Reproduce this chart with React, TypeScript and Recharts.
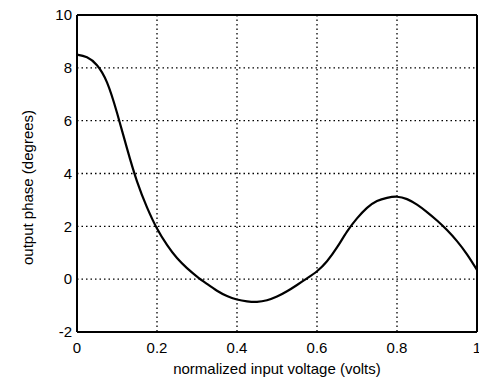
import React from "react";
import { LineChart, Line, XAxis, YAxis, CartesianGrid, ReferenceLine, Label } from "recharts";

const voltage = [0, 0.025, 0.05, 0.075, 0.1, 0.125, 0.15, 0.175, 0.2, 0.225, 0.25, 0.275, 0.3, 0.325, 0.35, 0.375, 0.4, 0.425, 0.45, 0.475, 0.5, 0.525, 0.55, 0.575, 0.6, 0.625, 0.65, 0.675, 0.7, 0.725, 0.75, 0.775, 0.8, 0.825, 0.85, 0.875, 0.9, 0.925, 0.95, 0.975, 1.0];
const phase = [8.5, 8.4, 8.1, 7.45, 6.3, 4.95, 3.7, 2.72, 1.92, 1.3, 0.8, 0.42, 0.1, -0.18, -0.44, -0.64, -0.77, -0.84, -0.86, -0.8, -0.66, -0.46, -0.22, 0.03, 0.3, 0.68, 1.2, 1.8, 2.3, 2.7, 2.96, 3.08, 3.12, 3.03, 2.82, 2.54, 2.22, 1.86, 1.44, 0.94, 0.35];
const xTicks = [0, 0.2, 0.4, 0.6, 0.8, 1];
const yTicks = [-2, 0, 2, 4, 6, 8, 10];

const data = voltage.map((v, i) => ({ v, p: phase[i] }));

const font = { fontFamily: "'Liberation Sans', Arial, sans-serif", fontSize: 15, fill: "#000" };

export default function App() {
  return (
    <div style={{ position: "absolute", left: 0, top: 0, background: "#fff" }}>
      <LineChart width={479} height={379} data={data} margin={{ top: 15, right: 2, bottom: 0, left: 0 }}>
        <CartesianGrid stroke="#000" strokeWidth={1.3} strokeDasharray="1.5 3" />
        <XAxis
          dataKey="v"
          type="number"
          domain={[0, 1]}
          ticks={xTicks}
          tickFormatter={(t: number) => String(t)}
          height={47}
          tickLine={false}
          tickSize={0}
          tickMargin={10}
          axisLine={{ stroke: "#000", strokeWidth: 2 }}
          tick={font}
          interval={0}
        >
          <Label value="normalized input voltage (volts)" position="insideBottom" offset={5} style={font} />
        </XAxis>
        <YAxis
          type="number"
          domain={[-2, 10]}
          ticks={yTicks}
          width={77}
          tickLine={false}
          tickSize={0}
          tickMargin={5}
          axisLine={{ stroke: "#000", strokeWidth: 2 }}
          tick={font}
          interval={0}
        >
          <Label value="output phase (degrees)" angle={-90} position="center" dx={-11} dy={14} style={font} />
        </YAxis>
        <ReferenceLine y={10} stroke="#000" strokeWidth={2} />
        <ReferenceLine x={1} stroke="#000" strokeWidth={2} />
        <Line dataKey="p" type="natural" stroke="#000" strokeWidth={2.2} dot={false} isAnimationActive={false} />
      </LineChart>
    </div>
  );
}
